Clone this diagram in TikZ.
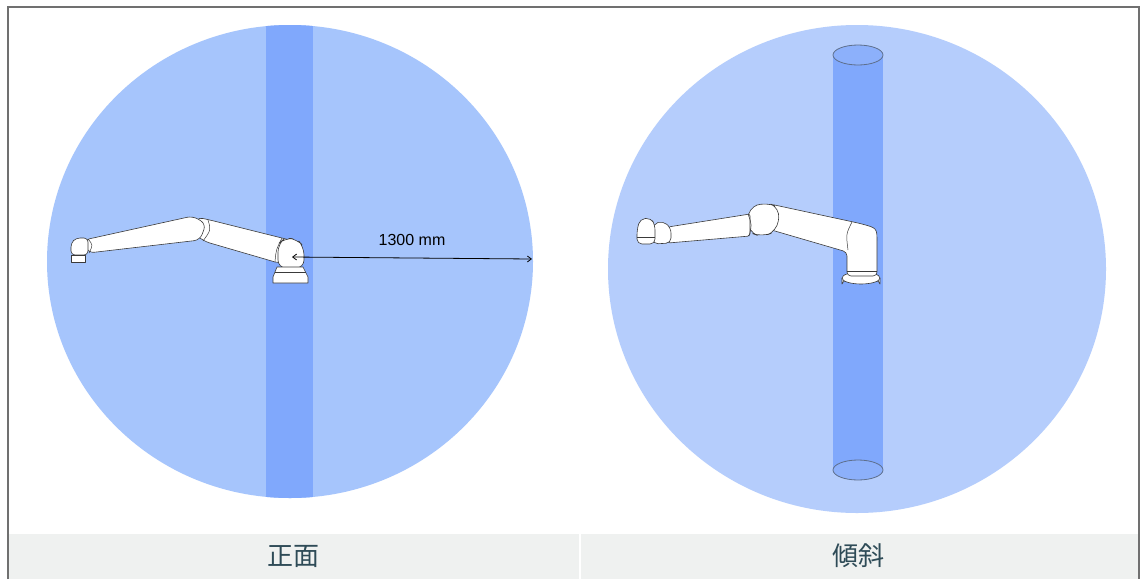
\documentclass[tikz,border=0pt]{standalone}
\usepackage{fontspec}
\newfontfamily\cjk{Noto Sans CJK JP}
\newfontfamily\arial{Liberation Sans}
\usetikzlibrary{arrows.meta}
\definecolor{circA}{HTML}{A6C5FC}
\definecolor{circB}{HTML}{B5CDFC}
\definecolor{colm}{HTML}{80A8FC}
\definecolor{colmtop}{HTML}{8CB0FB}
\definecolor{rimline}{HTML}{5E6F8C}
\definecolor{frameg}{HTML}{707070}
\definecolor{band}{HTML}{EFF1F0}
\definecolor{labelc}{HTML}{2E4B57}
\definecolor{armline}{HTML}{3A3A3A}
\tikzset{
  arm/.style={fill=white, draw=armline, line width=0.6pt, line join=round},
  seam/.style={draw=armline, line width=0.5pt},
  lbl/.style={font=\cjk\fontsize{26}{30}\selectfont, text=labelc, inner sep=0pt},
  dimlbl/.style={font=\arial\fontsize{16}{19}\selectfont, text=black, inner sep=0pt}
}
\begin{document}
\begin{tikzpicture}[x=1pt,y=-1pt]
\useasboundingbox (0,0) rectangle (1141,579);
\fill[white] (0,0) rectangle (1141,579);
% bottom band
\fill[band] (9,534) rectangle (1138,579);
\draw[white, line width=1.5pt] (580,534) -- (580,579);
% frame
\draw[frameg, line width=2pt] (8,579) -- (8,7) -- (1139,7) -- (1139,579);

% ---------- left panel ----------
\fill[circA] (290,261.5) ellipse[x radius=243, y radius=236.5];
\begin{scope}
  \clip (290,261.5) ellipse[x radius=243, y radius=236.5];
  \fill[colm] (266,20) rectangle (313,505);
\end{scope}
% left robot arm
\draw[arm, rounded corners=7] (196,217) -- (210,220) -- (294,241) -- (282,264) -- (203,241) -- (193,232) -- cycle;
\draw[arm, rounded corners=6] (84,240) -- (193,216) -- (206,224) -- (200,240) -- (88,253) -- cycle;
\draw[seam] (208,220) .. controls (211,230) .. (203,241);
\draw[arm, rounded corners=8] (278,268) -- (278,244) -- (285,238) -- (297,239) -- (304,247) -- (304,268) -- cycle;
\draw[seam] (282,238) .. controls (276,250) .. (275,262);
\draw[arm] (277,267) -- (303,267) -- (308,277) -- (308,283) -- (273,283) -- (273,277) -- cycle;
\draw[seam] (275,272) -- (306,272);
\draw[arm, rounded corners=4] (71,255) -- (71,243) -- (76,238) -- (88,238) -- (88,255) -- cycle;
\draw[arm] (71,255) rectangle (85,262);
\draw[seam] (88,239) .. controls (93,245) .. (89,253);
% dimension
\coordinate (shoulderL) at (292,257);
\coordinate (rimL) at (532,259);
\draw[line width=0.8pt, {Straight Barb[length=4pt,width=6pt]}-{Straight Barb[length=4pt,width=6pt]}] (shoulderL) -- (rimL);
\node[dimlbl] (dim) at (412,240) {1300 mm};
\node[lbl] (front) at (293,556) {正面};

% ---------- right panel ----------
\fill[circB] (857,269) ellipse[x radius=249, y radius=244];
\fill[colm] (833,55) rectangle (883,470);
\draw[rimline, line width=0.8pt, fill=colmtop] (858,470) ellipse[x radius=25, y radius=10];
\draw[rimline, line width=0.8pt, fill=colmtop] (858,55) ellipse[x radius=25, y radius=10];
% right robot arm
% base disk
\draw[arm] (842,278) -- (842,284) arc[start angle=180, end angle=360, x radius=19, y radius=6] -- (880,278);
\draw[arm] (861,278) ellipse[x radius=19, y radius=6];
% shoulder + upper arm
\draw[arm, rounded corners=4] (770,204) -- (858,223) .. controls (877,228) .. (877,246) -- (877,276) -- (847,276) -- (847,252) -- (768,229) -- cycle;
\draw[seam] (852,222) .. controls (846,234) .. (848,250);
\draw[seam] (847,271) -- (877,271);
% elbow
\draw[arm, rounded corners=10] (748,208) -- (766,202) -- (780,208) -- (777,231) -- (762,237) -- (748,232) -- cycle;
% forearm
\draw[arm, rounded corners=2] (668,227) -- (750,214) -- (750,236) -- (668,243) -- cycle;
\draw[seam] (748,214) .. controls (752,225) .. (749,236);
% wrist
\draw[arm, rounded corners=5] (653,224) -- (663,221) -- (671,228) -- (671,243) -- (653,244) -- cycle;
\draw[arm, rounded corners=5] (637,230) -- (640,219) -- (651,218) -- (655,225) -- (655,244) -- (637,244) -- cycle;
\draw[seam] (637,237) -- (655,237);
\node[lbl] (tilt) at (858,556) {傾斜};
\end{tikzpicture}
\end{document}
